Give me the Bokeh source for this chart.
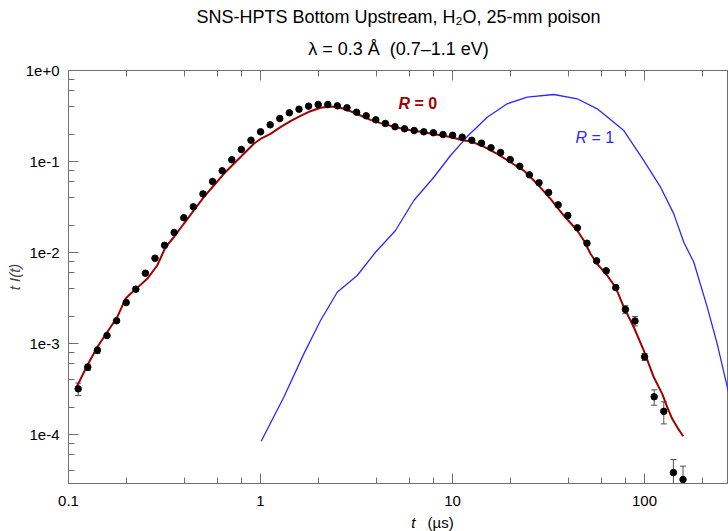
import math
from bokeh.plotting import figure
from bokeh.layouts import column
from bokeh.models import (Range1d, LogAxis, LogTicker, CustomJSTickFormatter, Label, Title,
                          ColumnDataSource, Whisker, TeeHead)
from bokeh.embed import file_html
from bokeh.resources import INLINE

# ---- data ----
t_meas = [0.1123, 0.1260, 0.1414, 0.1587, 0.1780, 0.1997, 0.2241, 0.2514, 0.2821, 0.3165,
          0.3551, 0.3985, 0.4471, 0.5016, 0.5629, 0.6315, 0.7086, 0.7950, 0.8920, 1.001,
          1.123, 1.260, 1.414, 1.587, 1.780, 1.997, 2.241, 2.514, 2.821, 3.165,
          3.551, 3.985, 4.471, 5.016, 5.629, 6.315, 7.086, 7.950, 8.920, 10.01,
          11.23, 12.60, 14.14, 15.87, 17.80, 19.97, 22.41, 25.14, 28.21, 31.65,
          35.51, 39.85, 44.71, 50.16, 56.28, 63.15, 70.86, 79.50, 89.20, 100.1,
          112.3, 126.0, 141.4, 158.7]
tI_meas = [3.18e-4, 5.50e-4, 8.45e-4, 1.225e-3, 1.78e-3, 2.82e-3, 3.96e-3, 5.93e-3, 8.66e-3, 1.20e-2,
           1.66e-2, 2.41e-2, 3.18e-2, 4.41e-2, 6.03e-2, 7.91e-2, 0.1045, 0.1355, 0.1715, 0.212,
           0.253, 0.297, 0.343, 0.376, 0.406, 0.423, 0.423, 0.409, 0.389, 0.348,
           0.318, 0.287, 0.262, 0.241, 0.229, 0.219, 0.212, 0.207, 0.198, 0.194,
           0.185, 0.171, 0.159, 0.1415, 0.1256, 0.105, 0.0888, 0.0714, 0.0583, 0.0456,
           0.0334, 0.0255, 0.0187, 0.01265, 8.1e-3, 6.3e-3, 4.12e-3, 2.37e-3, 1.77e-3, 7.14e-4,
           2.60e-4, 1.80e-4, 3.82e-5, 3.20e-5]
tI_err = [5.0e-5, 4.4e-5, 6.8e-5, 0, 0, 0, 0, 0, 0, 0,
          0, 0, 0, 0, 0, 0, 0, 0, 0, 0,
          0, 0, 0, 0, 0, 0, 0, 0, 0, 0,
          0, 0, 0, 0, 0, 0, 0, 0, 0, 0,
          0, 0, 0, 0, 0, 0, 0, 0, 0, 0,
          0, 0, 0, 0, 0, 0, 0, 2.4e-4, 2.1e-4, 6.4e-5,
          5.0e-5, 4.9e-5, 1.5e-5, 1.3e-5]

t_r0 = [0.1101, 0.1252, 0.1411, 0.1590, 0.1793, 0.1981, 0.2103, 0.2279, 0.2570, 0.2897,
        0.3200, 0.3535, 0.3986, 0.4494, 0.5067, 0.5713, 0.6441, 0.7260, 0.8185, 0.9228,
        1.0, 1.127, 1.271, 1.433, 1.615, 1.821, 2.054, 2.315, 2.610, 2.943,
        3.318, 3.741, 4.217, 4.754, 5.360, 6.043, 6.813, 7.681, 8.660, 9.763,
        11.45, 12.41, 14.55, 17.09, 20.05, 23.52, 27.61, 32.39, 37.99, 44.62,
        48.30, 52.34, 56.71, 63.94, 70.63, 78.02, 87.99, 99.17, 111.8, 123.7,
        131.3, 139.4, 148.1, 159.1]
tI_r0 = [3.31e-4, 5.73e-4, 9.10e-4, 1.33e-3, 1.95e-3, 3.10e-3, 3.52e-3, 4.09e-3, 5.14e-3, 7.20e-3,
         1.143e-2, 1.472e-2, 2.07e-2, 2.90e-2, 4.06e-2, 5.45e-2, 7.33e-2, 9.44e-2, 0.1216, 0.1566,
         0.177, 0.2016, 0.2382, 0.2773, 0.318, 0.357, 0.389, 0.402, 0.389, 0.357,
         0.320, 0.287, 0.264, 0.247, 0.232, 0.221, 0.212, 0.203, 0.1945, 0.186,
         0.170, 0.167, 0.146, 0.1216, 0.0982, 0.0796, 0.0569, 0.0389, 0.0255, 0.01746,
         0.01355, 9.68e-3, 7.51e-3, 5.59e-3, 4.16e-3, 2.51e-3, 1.51e-3, 8.38e-4, 4.26e-4, 2.80e-4,
         2.00e-4, 1.49e-4, 1.20e-4, 9.58e-5]

t_r1 = [1.008, 1.322, 1.681, 2.054, 2.509, 3.189, 3.972, 5.048, 6.286, 7.991,
        9.763, 11.93, 15.16, 19.27, 24.50, 33.71, 44.62, 56.71, 78.02, 99.17,
        121.2, 142.1, 160.2, 180.6, 212.2, 239.1, 273.8]
tI_r1 = [8.44e-5, 2.57e-4, 7.70e-4, 1.79e-3, 3.66e-3, 5.59e-3, 1.007e-2, 1.746e-2, 3.73e-2, 6.72e-2,
         0.1164, 0.188, 0.307, 0.431, 0.509, 0.545, 0.489, 0.379, 0.219, 0.1025,
         0.0522, 0.0266, 0.01297, 7.82e-3, 2.51e-3, 9.93e-4, 2.92e-4]

FONT = "Liberation Sans"
RED = "#a00000"
BLUE = "#2a2aff"
AXC = "#707070"

p = figure(width=728, height=514, x_axis_type="log", y_axis_type="log",
           x_range=Range1d(0.1, 273.8), y_range=Range1d(2.9e-5, 1.0),
           output_backend="svg", toolbar_location=None,
           min_border_left=68, min_border_right=0, min_border_top=70, min_border_bottom=31)
p.title.visible = False
p.background_fill_color = "white"
p.border_fill_color = "white"
p.outline_line_color = AXC
p.xgrid.visible = False
p.ygrid.visible = False

xfmt = CustomJSTickFormatter(code="return tick >= 1 ? tick.toFixed(0) : tick.toString();")
yfmt = CustomJSTickFormatter(code="""
const e = Math.round(Math.log10(tick));
return '1e' + (e >= 0 ? '+' + e : String(e));
""")

def style_axis(ax):
    ax.axis_line_color = AXC
    ax.major_tick_line_color = AXC
    ax.minor_tick_line_color = AXC
    ax.major_tick_in = 10
    ax.major_tick_out = 0
    ax.minor_tick_in = 6
    ax.minor_tick_out = 0
    ax.major_label_text_font = FONT
    ax.major_label_text_font_size = "15px"
    ax.major_label_text_color = "black"

xa = p.xaxis[0]
style_axis(xa)
xa.ticker = LogTicker(desired_num_ticks=4)
xa.formatter = xfmt
xa.major_label_standoff = 12

ya = p.yaxis[0]
style_axis(ya)
ya.ticker = LogTicker(desired_num_ticks=5)
ya.formatter = yfmt
ya.major_label_standoff = 9
ya.axis_label = "t I(t)"
ya.axis_label_text_font = FONT
ya.axis_label_text_font_size = "15px"
ya.axis_label_text_font_style = "italic"
ya.axis_label_standoff = 0

top = LogAxis(ticker=LogTicker(desired_num_ticks=4))
style_axis(top)
top.major_label_text_alpha = 0
top.major_label_text_font_size = "1px"
top.major_label_standoff = 0
p.add_layout(top, "above")

# titles (stacked above the top axis)
p.add_layout(Title(text="\u03bb = 0.3 \u00c5 \u00a0(0.7\u20131.1 eV)", align="center",
                   text_font=FONT, text_font_size="18px", text_font_style="normal",
                   text_color="black", standoff=24), "above")
p.add_layout(Title(text="SNS-HPTS Bottom Upstream, H\u2082O, 25-mm poison", align="center",
                   text_font=FONT, text_font_size="18px", text_font_style="normal",
                   text_color="black", standoff=-4), "above")

# curves
p.line(t_r1, tI_r1, line_color=BLUE, line_width=1.3)
p.line(t_r0, tI_r0, line_color=RED, line_width=2)

# error bars
ex = [t for t, e in zip(t_meas, tI_err) if e > 0]
eu = [y + e for y, e in zip(tI_meas, tI_err) if e > 0]
el = [y - e for y, e in zip(tI_meas, tI_err) if e > 0]
esrc = ColumnDataSource(dict(x=ex, upper=eu, lower=el))
p.add_layout(Whisker(source=esrc, base="x", upper="upper", lower="lower",
                     line_color="#505050", line_width=1,
                     upper_head=TeeHead(size=6, line_color="#505050", line_width=1),
                     lower_head=TeeHead(size=6, line_color="#505050", line_width=1)))

p.scatter(t_meas, tI_meas, size=6.5, color="black")

# curve labels
p.add_layout(Label(x=5.234, y=0.4339, text="R", text_font=FONT, text_font_size="16px",
                   text_font_style="bold italic", text_color=RED, text_baseline="middle"))
p.add_layout(Label(x=5.234, y=0.4339, x_offset=16, text="= 0", text_font=FONT,
                   text_font_size="16px", text_font_style="bold", text_color=RED,
                   text_baseline="middle"))
p.add_layout(Label(x=43.72, y=0.1835, text="R", text_font=FONT, text_font_size="16px",
                   text_font_style="italic", text_color=BLUE, text_baseline="middle"))
p.add_layout(Label(x=43.72, y=0.1835, x_offset=16, text="= 1", text_font=FONT,
                   text_font_size="16px", text_color=BLUE, text_baseline="middle"))

# strip below the chart carrying the x-axis title
p2 = figure(width=728, height=17, x_range=Range1d(0, 728), y_range=Range1d(17, 0),
            x_axis_type=None, y_axis_type=None, output_backend="svg", toolbar_location=None,
            min_border=0)
p2.title.visible = False
p2.outline_line_color = None
p2.xgrid.visible = False
p2.ygrid.visible = False
p2.background_fill_color = "white"
p2.border_fill_color = "white"
p2.add_layout(Label(x=378, y=8, text="t", text_font=FONT, text_font_size="15px",
                    text_font_style="italic", text_baseline="middle", text_color="black"))
p2.add_layout(Label(x=396, y=8, text="(\u00b5s)", text_font=FONT, text_font_size="15px",
                    text_baseline="middle", text_color="black"))

layout = column(p, p2, spacing=0)
open("out.html", "w").write(file_html(layout, INLINE))
